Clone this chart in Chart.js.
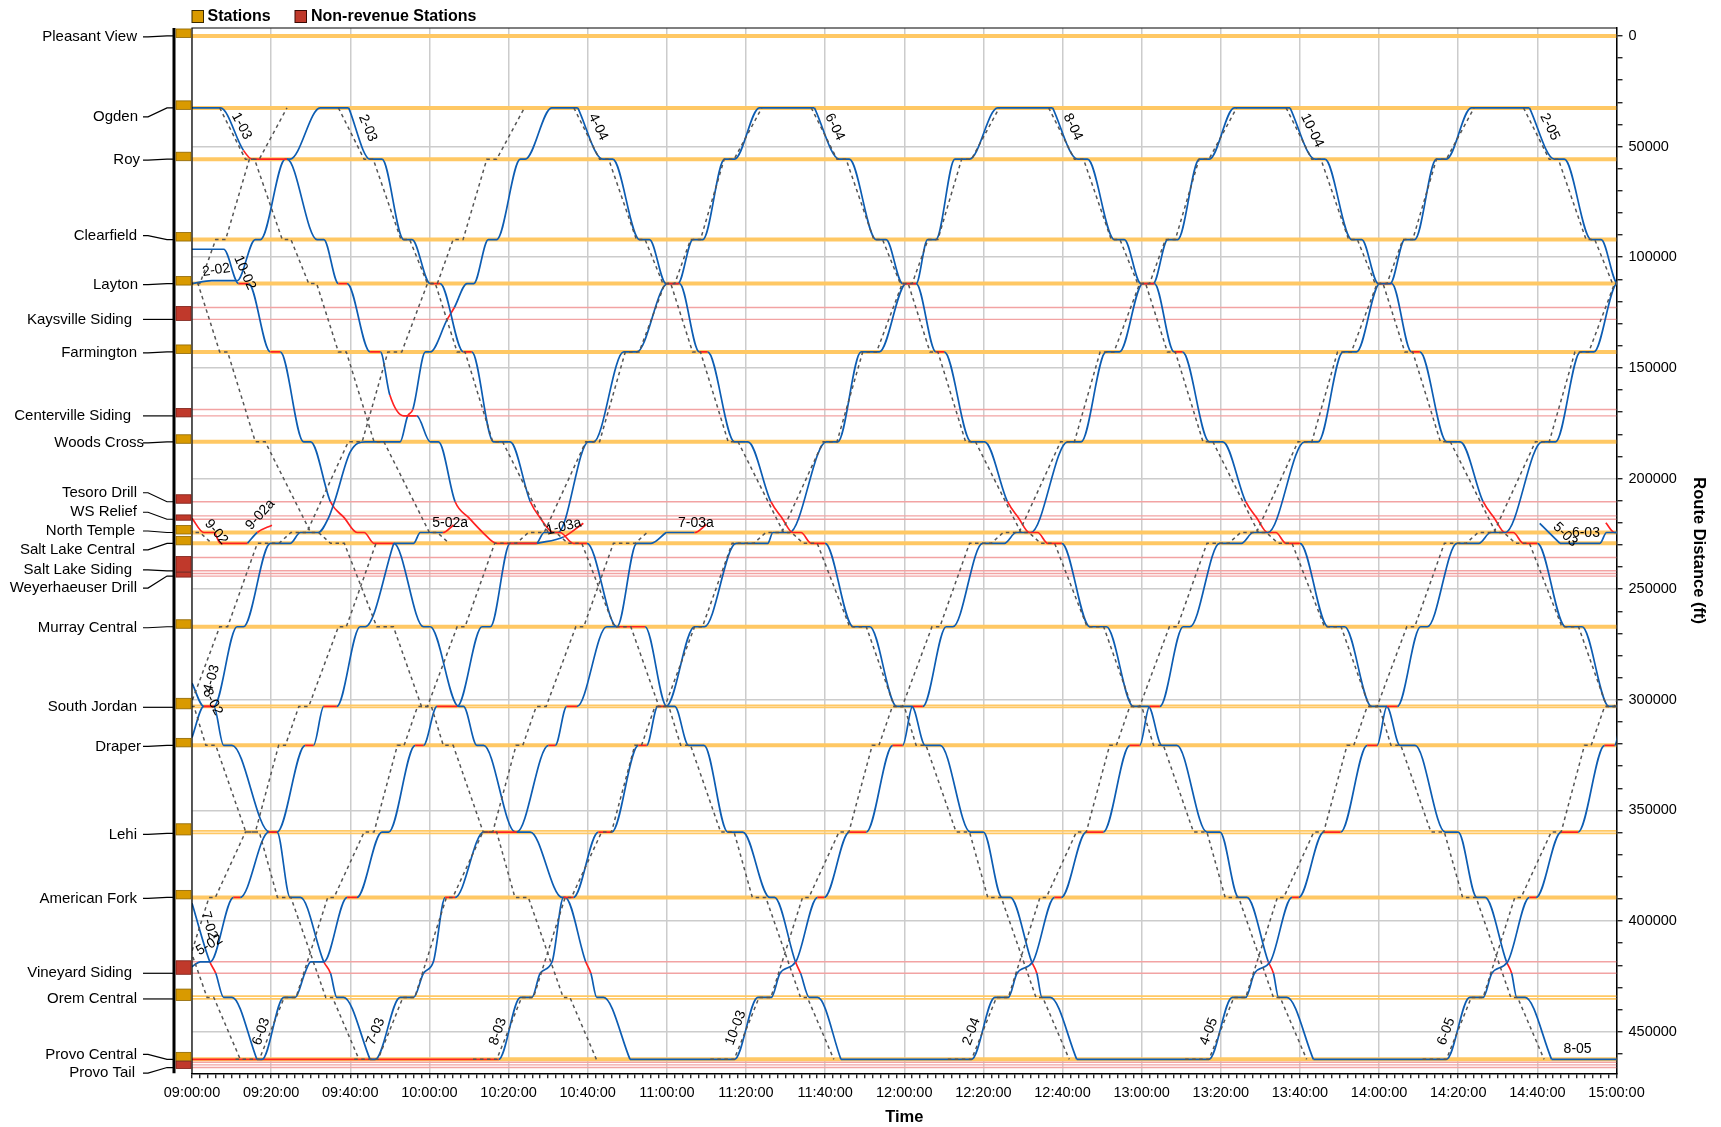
<!DOCTYPE html>
<html>
<head>
<meta charset="utf-8">
<script src="https://cdn.jsdelivr.net/npm/chart.js@4.4.0/dist/chart.umd.min.js"></script>
<style>
  html, body { margin: 0; padding: 0; background: #fff; }
</style>
</head>
<body>
<canvas id="grafica" width="1721" height="1127"></canvas>
<script>
// estaciones: nombre, tipo y posición de las vías (pies desde Pleasant View)
const stationNames = ['Pleasant View', 'Ogden', 'Roy', 'Clearfield', 'Layton', 'Kaysville Siding', 'Farmington',
  'Centerville Siding', 'Woods Cross', 'Tesoro Drill', 'WS Relief', 'North Temple', 'Salt Lake Central',
  'Salt Lake Siding', 'Weyerhaeuser Drill', 'Murray Central', 'South Jordan', 'Draper', 'Lehi', 'American Fork',
  'Vineyard Siding', 'Orem Central', 'Provo Central', 'Provo Tail'];
const stationRevenue = [1, 1, 1, 1, 1, 0, 1, 0, 1, 0, 0, 1, 1, 0, 0, 1, 1, 1, 1, 1, 0, 1, 1, 0];
const stationTracks = [[0], [32500], [55700], [92000], [111900], [122700, 128100], [142800], [168800, 171700],
  [183400], [210500], [216900, 218400], [224400], [229300], [235700, 241700], [242900, 244100], [267000],
  [302500, 303400], [320600], [359200, 360400], [389300], [418400, 423600], [433900, 435200], [462500],
  [463800, 465000, 466200]];

// posiciones de parada que usan los trenes
const posKeys = ['OGD', 'ROY', 'CLF', 'LAY', 'KY1', 'KY2', 'FAR', 'CN1', 'CN2', 'WCX', 'TES', 'WSR', 'NT', 'SLC',
  'MUR', 'SJ', 'DRA', 'LEH', 'AF', 'VN1', 'VN2', 'ORM', 'PRV'];
const posDist = [32500, 55700, 92000, 111900, 122700, 128100, 142800, 168800, 171700, 183400, 210500, 217800,
  224400, 229300, 267000, 303000, 320600, 359800, 389300, 418400, 423600, 434500, 462500];

// etiquetas de los ejes
const timeTickLabels = ['09:00:00', '09:20:00', '09:40:00', '10:00:00', '10:20:00', '10:40:00', '11:00:00',
  '11:20:00', '11:40:00', '12:00:00', '12:20:00', '12:40:00', '13:00:00', '13:20:00', '13:40:00', '14:00:00',
  '14:20:00', '14:40:00', '15:00:00'];
const distanceTickLabels = ['0', '50000', '100000', '150000', '200000', '250000', '300000', '350000', '400000', '450000'];

// recorridos reales: 'PARADA llegada-salida banderas'
// a = tramo de llegada en rojo, d = espera en rojo, L/D = etiqueta en la llegada/salida
const t_1_03 = ['OGD 9:00-9:07.2', '51700 9:13', 'ROY 9:15.2-9:24 ad', 'CLF 9:31.6-9:33.3', 'LAY 9:37-9:39.2 d',
  'FAR 9:45-9:47.6 d', '162300 9:50', 'CN2 9:53.5-9:56.8 ad', 'WCX 10:00.2-10:02.3', 'TES 10:06.5', 'WSR 10:10 a',
  'NT 10:13.5 a', 'SLC 10:17-10:27.2 ad'];
const t_1_03a = ['SLC 10:27.2', '226400 10:33.9', '220200 10:38.9 a'];
const t_2_02 = ['LAY 9:00', '110600 9:05-9:11.4', 'CLF 9:16-9:17.3', 'ROY 9:23.6-9:24.8', 'OGD 9:32.4-9:39.6'];
const t_2_03 = ['OGD 9:39.6', 'ROY 9:45-9:48', 'CLF 9:53.5-9:55.6', 'LAY 10:00.2-10:02.7 d', 'FAR 10:08.6-10:10.7 d',
  'WCX 10:16.2-10:20.4', 'TES 10:25.5', 'WSR 10:28 a', 'NT 10:31.4-10:33 ad', 'SLC 10:36.4-10:39.8 ad',
  'MUR 10:47.4-10:54.5 d', 'SJ 11:00-11:02', 'DRA 11:05.5-11:09.4', 'LEH 11:15.4-11:19.2', 'AF 11:26-11:27.2',
  'VN1 11:32.5', 'VN2 11:33.8 a', 'ORM 11:36-11:38.1', 'PRV 11:44'];
const t_2_04 = ['PRV 11:44-12:17', 'ORM 12:22.9-12:26.3', 'VN2 12:28.5', 'VN1 12:32.5', 'AF 12:38-12:39.7 d',
  'LEH 12:46-12:50.3 d', 'DRA 12:57-12:59.5 d', 'SJ 13:02-13:04.6 d', 'MUR 13:10.5-13:12.2', 'SLC 13:19.7-13:25.2',
  'NT 13:28.2-13:31.9', 'WCX 13:41.2-13:44.6', 'FAR 13:50.9-13:54.3', 'LAY 14:00.2-14:02.8', 'CLF 14:06.5-14:09',
  'ROY 14:14.5-14:17', 'OGD 14:23.3-14:38'];
const t_2_05 = ['OGD 14:38', 'ROY 14:44.3-14:46.8', 'CLF 14:53.6-14:56.1', 'LAY 15:00.3-15:03.7 d'];
const t_4_03 = ['317000 9:00', 'SJ 9:03-9:05.5 dD', 'MUR 9:11.4-9:13', 'SLC 9:19.8-9:24.8', 'NT 9:27.4-9:31.9',
  'WSR 9:34.5', 'TES 9:36', '188000 9:40', 'WCX 9:43.8-9:52.6', 'CN2 9:54.5', 'CN1 9:55.8 a', 'FAR 9:59-10:00.2',
  'KY2 10:04.5', 'KY1 10:06.3 a', 'LAY 10:09.5-10:11.2', 'CLF 10:14.9-10:17', 'ROY 10:23-10:24.2',
  'OGD 10:30.9-10:37.5'];
const t_4_04 = ['OGD 10:37.5', 'ROY 10:43.8-10:46.3', 'CLF 10:53.1-10:55.6', 'LAY 10:59.8-11:03.2 d',
  'FAR 11:08.2-11:10.3 d', 'WCX 11:17.1-11:20.5', 'TES 11:26.3', 'WSR 11:29.1 a', 'NT 11:31.8-11:33.9 ad',
  'SLC 11:36.5-11:40 ad', 'MUR 11:47.1-11:51.3', 'SJ 11:58.1-12:01.9', 'DRA 12:05.3-12:09.1', 'LEH 12:16.7-12:20',
  'AF 12:24.7-12:26.8', 'VN1 12:32.2', 'VN2 12:33.5 a', 'ORM 12:34.8-12:36.9', 'PRV 12:43.6'];
const t_4_05 = ['PRV 12:43.6-13:17', 'ORM 13:22.9-13:26.3', 'VN2 13:28.5', 'VN1 13:32.5', 'AF 13:38-13:39.7 d',
  'LEH 13:46-13:50.3 d', 'DRA 13:57-13:59.5 d', 'SJ 14:02-14:04.6 d', 'MUR 14:10.5-14:12.2', 'SLC 14:19.7-14:25.2',
  'NT 14:28.2-14:31.9', 'WCX 14:41.2-14:44.6', 'FAR 14:50.9-14:54.3', 'LAY 15:00.2-15:02.8', 'CLF 15:06.5-15:09'];
const t_5_02 = ['420600 9:00', 'VN1 9:02.1-9:04.6', 'AF 9:10.5-9:12.2 d', 'LEH 9:19.4-9:21.5 d',
  'DRA 9:28.6-9:30.7 d', 'SJ 9:33.3-9:36.6 d', 'MUR 9:42.5-9:43.8', 'SLC 9:51'];
const t_5_02a = ['SLC 9:51-9:56', 'NT 9:57.7-10:03.4 L', '221000 10:06.1 a'];
const t_5_03 = ['220300 14:40.6', 'SLC 14:45.7'];
const t_6_03 = ['PRV 9:16.4-9:17.7', 'ORM 9:23.2-9:26.1', 'VN2 9:28.5', 'VN1 9:30-9:33.3', 'AF 9:39.2-9:41.7 d',
  'LEH 9:48-9:49.7', 'DRA 9:56.4-9:58.5 d', 'SJ 10:01.9-10:07 d', 'MUR 10:13.3-10:15.4', 'SLC 10:20.4-10:27',
  'NT 10:29-10:32.5', 'WCX 10:40.2-10:41.5', 'FAR 10:49.1-10:52.4', 'LAY 11:00.2-11:02.8', 'CLF 11:06.6-11:09.1',
  'ROY 11:14.6-11:17.1', 'OGD 11:23.4-11:37.3'];
const t_6_03b = ['SLC 14:45.7-14:55.8 L', 'NT 14:57.5-15:05'];
const t_6_03c = ['220000 14:57.3', 'NT 14:59.5-15:05 a'];
const t_6_04 = ['OGD 11:37.3', 'ROY 11:43.6-11:46.1', 'CLF 11:52.9-11:55.4', 'LAY 11:59.6-12:03 d',
  'FAR 12:08-12:10.1 d', 'WCX 12:16.9-12:20.3', 'TES 12:26.1', 'WSR 12:28.9 a', 'NT 12:31.6-12:33.7 ad',
  'SLC 12:36.3-12:39.8 ad', 'MUR 12:46.9-12:51.1', 'SJ 12:57.9-13:01.7', 'DRA 13:05.1-13:08.9',
  'LEH 13:16.5-13:19.8', 'AF 13:24.5-13:26.6', 'VN1 13:32', 'VN2 13:33.3 a', 'ORM 13:34.6-13:36.7', 'PRV 13:43.4'];
const t_6_05 = ['PRV 13:43.4-14:17', 'ORM 14:22.9-14:26.3', 'VN2 14:28.5', 'VN1 14:32.5', 'AF 14:38-14:39.7 d',
  'LEH 14:46-14:50.3 d', 'DRA 14:57-14:59.5 d', 'SJ 15:02-15:04.6 d'];
const t_7_02 = ['392000 9:00', 'VN1 9:04.5', 'VN2 9:06 a', 'ORM 9:08-9:10.1', 'PRV 9:16.4'];
const t_7_03 = ['PRV 9:45-9:46.3', 'ORM 9:52.6-9:56', 'VN2 9:58.5', 'VN1 10:01', 'AF 10:04-10:06.5 d',
  'LEH 10:13.7-10:22.1 d', 'DRA 10:30.1-10:31.8 d', 'SJ 10:34.7-10:37.3 d', 'MUR 10:44.8-10:47.4',
  'SLC 10:52.4-10:56', 'NT 10:59.8'];
const t_7_03a = ['NT 10:59.8-11:07 L', '220800 11:10 a'];
const t_8_02 = ['292500 9:00', 'SJ 9:03-9:05.5 d', 'DRA 9:08-9:10.1', 'LEH 9:19.6-9:21.5', 'AF 9:24.8-9:27.4',
  'VN1 9:33.3', 'VN2 9:35 a', 'ORM 9:36.6-9:38.3', 'PRV 9:45'];
const t_8_03 = ['PRV 9:00-10:17.5 d', 'ORM 10:23-10:25.9', 'VN2 10:28', 'VN1 10:31', 'AF 10:33.9-10:36.4 d',
  'LEH 10:42.7-10:46.1 d', 'DRA 10:52.8-10:54.9 d', 'SJ 10:57.7-10:59.8 d', 'MUR 11:07-11:09.5',
  'SLC 11:17.5-11:25.5', 'NT 11:26.8-11:31', 'WCX 11:40.3-11:43.2', 'FAR 11:49.1-11:53.7', 'LAY 12:00.5-12:03',
  'CLF 12:05.9-12:08', 'ROY 12:12.8-12:16.5', 'OGD 12:23.6-12:37.5'];
const t_8_04 = ['OGD 12:37.5', 'ROY 12:43.8-12:46.3', 'CLF 12:53.1-12:55.6', 'LAY 12:59.8-13:03.2 d',
  'FAR 13:08.2-13:10.3 d', 'WCX 13:17.1-13:20.5', 'TES 13:26.3', 'WSR 13:29.1 a', 'NT 13:31.8-13:33.9 ad',
  'SLC 13:36.5-13:40 ad', 'MUR 13:47.1-13:51.3', 'SJ 13:58.1-14:01.9', 'DRA 14:05.3-14:09.1', 'LEH 14:16.7-14:20',
  'AF 14:24.7-14:26.8', 'VN1 14:32.2', 'VN2 14:33.5 a', 'ORM 14:34.8-14:36.9', 'PRV 14:43.6'];
const t_8_05 = ['PRV 14:43.6-15:17'];
const t_9_02 = ['218000 9:00', 'NT 9:03-9:05.5 ad', 'SLC 9:07.2-9:14 ad'];
const t_9_02a = ['SLC 9:14', 'NT 9:16.5', '221100 9:20.2 a'];
const t_10_02 = ['96400 9:00-9:08', 'LAY 9:11.8-9:14.3 d', 'FAR 9:19.8-9:22.3 d', 'WCX 9:28.2-9:30', 'TES 9:35',
  'WSR 9:38.5 a', 'NT 9:41.7-9:43.5 ad', 'SLC 9:46-9:51 ad', 'MUR 9:58.5-10:00.2', 'SJ 10:07.4-10:08.6',
  'DRA 10:12-10:13.7', 'LEH 10:21.7-10:25.5', 'AF 10:33.5-10:34.3', 'VN1 10:39.5', 'VN2 10:40.8 a',
  'ORM 10:42.3-10:44', 'PRV 10:50.7'];
const t_10_03 = ['PRV 10:50.7-11:17.1', 'ORM 11:23-11:26.4', 'VN2 11:28.6', 'VN1 11:32.6', 'AF 11:38.1-11:39.8 d',
  'LEH 11:46.1-11:50.4 d', 'DRA 11:57.1-11:59.6 d', 'SJ 12:02.1-12:04.7 d', 'MUR 12:10.6-12:12.3',
  'SLC 12:19.8-12:25.3', 'NT 12:28.3-12:32', 'WCX 12:41.3-12:44.7', 'FAR 12:51-12:54.4', 'LAY 13:00.3-13:02.9',
  'CLF 13:06.6-13:09.1', 'ROY 13:14.6-13:17.1', 'OGD 13:23.4-13:37.5'];
const t_10_04 = ['OGD 13:37.5', 'ROY 13:43.8-13:46.3', 'CLF 13:53.1-13:55.6', 'LAY 13:59.8-14:03.2 d',
  'FAR 14:08.2-14:10.3 d', 'WCX 14:17.1-14:20.5', 'TES 14:26.3', 'WSR 14:29.1 a', 'NT 14:31.8-14:33.9 ad',
  'SLC 14:36.5-14:40 ad', 'MUR 14:47.1-14:51.3', 'SJ 14:58.1-15:01.9', 'DRA 15:05.3-15:09.1'];

const trips = [
  ['1-03', t_1_03], ['1-03a', t_1_03a], ['2-02', t_2_02], ['2-03', t_2_03], ['2-04', t_2_04], ['2-05', t_2_05],
  ['4-03', t_4_03], ['4-04', t_4_04], ['4-05', t_4_05], ['5-02', t_5_02], ['5-02a', t_5_02a], ['5-03', t_5_03],
  ['6-03', t_6_03], ['6-03', t_6_03b], ['', t_6_03c], ['6-04', t_6_04], ['6-05', t_6_05], ['7-02', t_7_02],
  ['7-03', t_7_03], ['7-03a', t_7_03a], ['8-02', t_8_02], ['8-03', t_8_03], ['8-04', t_8_04], ['8-05', t_8_05],
  ['9-02', t_9_02], ['9-02a', t_9_02a], ['10-02', t_10_02], ['10-03', t_10_03], ['10-04', t_10_04]
];

// horario previsto (líneas de puntos): tiempos de recorrido en minutos desde la salida
const schedSBRun = [['OGD', null, 0], ['ROY', 6.5, 8.8], ['CLF', 15.8, 18], ['LAY', 22.5, 24.5], ['FAR', 30, 32],
  ['WCX', 39, 41.5], ['NT', 53, 55], ['SLC', 58, 61.5], ['MUR', 69.7, 73.9], ['SJ', 81, 83.5], ['DRA', 86.5, 89],
  ['LEH', 96.6, 100], ['AF', 104.6, 108], ['ORM', 116.8, 118.5], ['PRV', 125.2, null]];
const schedNBRun = [['PRV', -6, 0], ['ORM', 6.3, 9.3], ['AF', 17.3, 18.9], ['LEH', 26.5, 29], ['DRA', 34.9, 36.6],
  ['SJ', 40, 42.5], ['MUR', 50, 52], ['SLC', 59.5, 65], ['NT', 68, 72], ['WCX', 82.5, 86], ['FAR', 92.5, 96],
  ['LAY', 102.5, 105], ['CLF', 109, 111.5], ['ROY', 117.5, 120], ['OGD', 127, null]];
const schedSBDeparts = ['7:07', '7:37', '8:07', '8:37', '9:07', '9:37', '10:36.5', '11:36.5', '12:36.5', '13:36.5', '14:36.5'];
const schedSBEnds = ['PRV', 'PRV', 'SLC', 'PRV', 'SLC', 'PRV', 'PRV', 'PRV', 'PRV', 'PRV', 'PRV'];
const schedNBDeparts = ['7:17', '8:17', '8:47', '9:17', '9:47', '10:17', '11:17', '12:17', '13:17', '14:17'];
const schedNBEnds = ['OGD', 'OGD', 'SLC', 'OGD', 'NT', 'OGD', 'OGD', 'OGD', 'OGD', 'OGD'];

// estilo de las etiquetas de la izquierda (px)
const labelShift = [1, 9, 1, -4, 1, 0, 1, 0, 1, -9, -7, -1.5, 6.5, -1, 12, 1, 0, 1, 1, 1, 0, 0, -5, 5.5];
const labelDx = [0, 1, 3, 0, 1, -5, 0, -6, 7, 0, 0, -2, -2, -5, 0, 0, 0, 4, 0, 0, -5, 0, 0, -2];

const FONT = "'Liberation Sans', Arial, Helvetica, sans-serif";
const BLUE = '#0d5db3', RED = '#ff2222', ORANGE = '#ffc864', PINK = '#f2a3a3';
Chart.defaults.font.family = FONT;

function parseT(s) {
  const p = s.split(':');
  return +p[0] * 60 + parseFloat(p[1]);
}
function posOf(key) {
  return isNaN(+key) ? posDist[posKeys.indexOf(key)] : +key;
}
function tripPoints(tokens) {
  const pts = [];
  let labelIdx = -1;
  tokens.forEach(tok => {
    const parts = tok.trim().split(/\s+/);
    const times = parts[1].split('-');
    const flags = parts[2] || '';
    const y = posOf(parts[0]);
    if (flags.includes('L')) labelIdx = pts.length;
    pts.push({ x: parseT(times[0]), y: y, red: flags.includes('a') });
    if (times[1]) pts.push({ x: parseT(times[1]), y: y, red: flags.includes('d') });
    if (flags.includes('D')) labelIdx = pts.length - 1;
  });
  return { pts, labelIdx };
}
function schedPoints(run, dep, endKey) {
  const d0 = parseT(dep);
  const pts = [];
  for (const [k, a, b] of run) {
    const y = posOf(k);
    if (a !== null) pts.push({ x: d0 + a, y: y });
    if (k === endKey) break;
    if (b !== null) pts.push({ x: d0 + b, y: y });
  }
  return pts;
}

const datasets = [];

// trenes reales
trips.forEach(([name, tokens]) => {
  const tp = tripPoints(tokens);
  datasets.push({
    data: tp.pts, borderColor: BLUE, borderWidth: 1.7, pointRadius: 0, order: 1,
    cubicInterpolationMode: 'monotone',
    segment: { borderColor: ctx => (ctx.p1.raw && ctx.p1.raw.red) ? RED : undefined },
    tripLabel: name, labelIdx: tp.labelIdx
  });
});

// horario previsto
schedSBDeparts.forEach((d, i) => {
  datasets.push({ data: schedPoints(schedSBRun, d, schedSBEnds[i]), borderColor: '#555', borderWidth: 1.5,
    borderDash: [3.5, 3.5], pointRadius: 0, tension: 0, order: 0 });
});
schedNBDeparts.forEach((d, i) => {
  datasets.push({ data: schedPoints(schedNBRun, d, schedNBEnds[i]), borderColor: '#555', borderWidth: 1.5,
    borderDash: [3.5, 3.5], pointRadius: 0, tension: 0, order: 0 });
});

// vías de las estaciones
stationTracks.forEach((tracks, i) => {
  tracks.forEach(d => {
    const rev = stationRevenue[i] === 1;
    datasets.push({
      data: [{ x: 540, y: d }, { x: 900, y: d }], pointRadius: 0, order: 2,
      borderColor: rev ? ORANGE : PINK,
      borderWidth: rev ? (tracks.length > 1 ? 1.8 : 4) : 1.4
    });
  });
});

// marcas de los ejes: mayores con etiqueta, menores cada 2 min y cada 10000 ft
const xMajor = timeTickLabels.map(parseT);
const yMajor = distanceTickLabels.map(Number);
function xTicks() {
  const out = [];
  for (let v = xMajor[0]; v <= xMajor[xMajor.length - 1] + 1e-9; v += 2) out.push({ value: v });
  return out;
}
function yTicks() {
  const out = [];
  for (let v = 0; v <= 460000; v += 10000) out.push({ value: v });
  return out;
}
function majorIndex(list, v) {
  return list.findIndex(m => Math.abs(m - v) < 1e-6);
}

const decor = {
  id: 'decor',
  beforeDraw(chart) {
    const c = chart.ctx;
    c.save();
    c.fillStyle = '#fff';
    c.fillRect(0, 0, chart.width, chart.height);
    c.restore();
  },
  afterDatasetsDraw(chart) {
    // etiquetas de los trenes
    const c = chart.ctx, xs = chart.scales.x, ys = chart.scales.y;
    c.save();
    c.font = '14px ' + FONT;
    c.fillStyle = '#000';
    c.textBaseline = 'alphabetic';
    chart.data.datasets.forEach(ds => {
      if (!ds.tripLabel) return;
      const pts = ds.data;
      let i = ds.labelIdx;
      if (i < 0) {
        i = 0;
        while (i < pts.length - 1 && pts[i + 1].y === pts[i].y) i++;
        if (i === pts.length - 1) i = 0;
      }
      const p0 = pts[i], p1 = pts[Math.min(i + 1, pts.length - 1)];
      const x0 = xs.getPixelForValue(p0.x), y0 = ys.getPixelForValue(p0.y);
      const x1 = xs.getPixelForValue(p1.x), y1 = ys.getPixelForValue(p1.y);
      const ang = (p1 === p0) ? 0 : Math.atan2(y1 - y0, x1 - x0);
      c.save();
      c.translate(x0, y0);
      c.rotate(ang);
      c.fillText(ds.tripLabel, 12, -6);
      c.restore();
    });
    c.restore();
  },
  afterDraw(chart) {
    const c = chart.ctx, a = chart.chartArea, ys = chart.scales.y;
    c.save();
    // marco del gráfico
    c.strokeStyle = '#000';
    c.lineWidth = 1.2;
    c.beginPath();
    c.moveTo(a.left, a.bottom); c.lineTo(a.left, a.top); c.lineTo(a.right, a.top);
    c.stroke();
    // línea negra gruesa
    c.lineWidth = 3;
    c.beginPath();
    c.moveTo(174, a.top); c.lineTo(174, a.bottom);
    c.stroke();

    // estaciones a la izquierda
    c.font = '15px ' + FONT;
    c.textAlign = 'right';
    c.textBaseline = 'middle';
    stationNames.forEach((name, i) => {
      const tr = stationTracks[i];
      const yFirst = ys.getPixelForValue(tr[0]);
      const yLast = ys.getPixelForValue(tr[tr.length - 1]);
      const rev = stationRevenue[i] === 1;
      let top, bot;
      if (rev || tr.length === 1) { top = yFirst - 7; bot = yLast + 1.5; }
      else { top = yFirst - 1; bot = yLast + 1; }
      c.fillStyle = rev ? '#d99a00' : '#c0392b';
      c.fillRect(176, top, 15, bot - top);
      c.strokeStyle = rev ? '#8c6400' : '#7a1d15';
      c.lineWidth = 0.8;
      c.strokeRect(176, top, 15, bot - top);

      const yl = yLast + labelShift[i];
      c.strokeStyle = '#000';
      c.lineWidth = 1.2;
      c.beginPath();
      c.moveTo(143, yl); c.lineTo(148, yl); c.lineTo(167, yLast); c.lineTo(174, yLast);
      c.stroke();
      c.fillStyle = '#000';
      c.fillText(name, 137 + labelDx[i], yl);
    });

    // leyenda
    c.textAlign = 'left';
    c.font = 'bold 16px ' + FONT;
    c.lineWidth = 1;
    c.fillStyle = '#d99a00';
    c.fillRect(192, 10.5, 11.5, 12);
    c.strokeStyle = '#3a2a00';
    c.strokeRect(192, 10.5, 11.5, 12);
    c.fillStyle = '#000';
    c.fillText('Stations', 207.5, 17);
    c.fillStyle = '#c0392b';
    c.fillRect(295, 10.5, 11.5, 12);
    c.strokeStyle = '#3a0a05';
    c.strokeRect(295, 10.5, 11.5, 12);
    c.fillStyle = '#000';
    c.fillText('Non-revenue Stations', 311, 17);

    // títulos de los ejes
    c.font = 'bold 16.5px ' + FONT;
    c.textAlign = 'center';
    c.fillText('Time', (a.left + a.right) / 2, 1117);
    c.translate(1699, (a.top + a.bottom) / 2);
    c.rotate(Math.PI / 2);
    c.fillText('Route Distance (ft)', 0, 0);
    c.restore();
  }
};

const ctx = document.getElementById('grafica').getContext('2d');
const myChart = new Chart(ctx, {
  type: 'line',
  data: { datasets: datasets },
  options: {
    responsive: false,
    animation: false,
    devicePixelRatio: 1,
    layout: { padding: { left: 192, top: 28, right: 0, bottom: 0 } },
    plugins: { legend: { display: false }, tooltip: { enabled: false } },
    elements: { point: { radius: 0 }, line: { borderCapStyle: 'butt' } },
    scales: {
      x: {
        type: 'linear', min: 540, max: 900,
        afterBuildTicks(s) { s.ticks = xTicks(); },
        afterFit(s) { s.height = 53.7; s.paddingLeft = 0; s.paddingRight = 0; },
        ticks: {
          autoSkip: false, maxRotation: 0, minRotation: 0, padding: 6, color: '#000', font: { size: 14.5 },
          callback: v => { const k = majorIndex(xMajor, v); return k >= 0 ? timeTickLabels[k] : ''; }
        },
        grid: {
          color: c => (c.tick && majorIndex(xMajor, c.tick.value) >= 0) ? '#cccccc' : 'rgba(0,0,0,0)',
          lineWidth: 1.5, tickLength: 5, tickColor: '#000', tickWidth: 1.2
        },
        border: { color: '#000', width: 1.5 }
      },
      y: {
        type: 'linear', position: 'right', reverse: true, min: -3600, max: 468800,
        afterBuildTicks(s) { s.ticks = yTicks(); },
        afterFit(s) { s.width = 104.5; s.paddingTop = 0; s.paddingBottom = 0; },
        ticks: {
          autoSkip: false, padding: 6, color: '#000', font: { size: 14.5 },
          callback: v => { const k = majorIndex(yMajor, v); return k >= 0 ? distanceTickLabels[k] : ''; }
        },
        grid: {
          color: c => (c.tick && majorIndex(yMajor, c.tick.value) >= 0) ? '#cccccc' : 'rgba(0,0,0,0)',
          lineWidth: 1.5, tickLength: 6, tickColor: '#000', tickWidth: 1.2
        },
        border: { color: '#000', width: 1.5 }
      }
    }
  },
  plugins: [decor]
});
</script>
</body>
</html>
